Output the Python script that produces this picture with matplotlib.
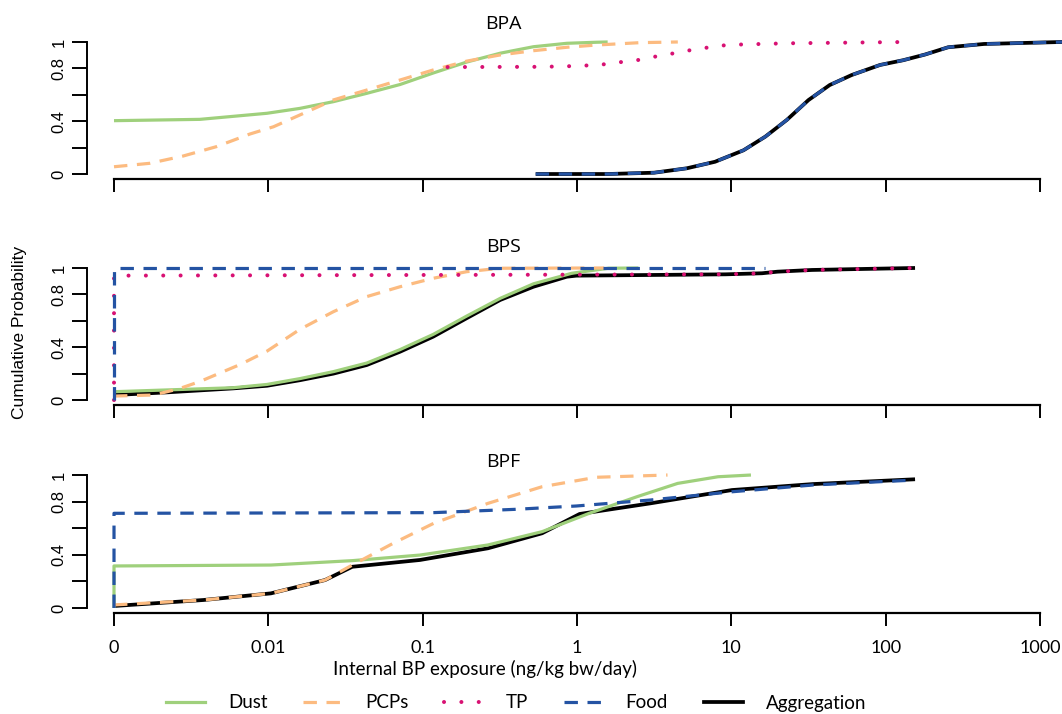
import matplotlib
matplotlib.use("Agg")
import matplotlib.pyplot as plt
from matplotlib.lines import Line2D

# "0" on the axis stands for 0.001 (log scale floor)
ZERO = 0.001

# ---- BPA ----
bpa_dust_x = [ZERO, 0.0036, 0.0098, 0.016, 0.0264, 0.0434, 0.0714, 0.117, 0.193, 0.318, 0.522, 0.859, 1.34, 1.58]
bpa_dust_p = [0.404, 0.414, 0.46, 0.497, 0.548, 0.611, 0.678, 0.765, 0.848, 0.915, 0.964, 0.99, 0.998, 1.0]
bpa_pcp_x = [ZERO, 0.0017, 0.0028, 0.0046, 0.0076, 0.0108, 0.016, 0.0264, 0.0434, 0.0714, 0.117, 0.193, 0.318, 0.522, 0.859, 1.34, 2.57, 4.5]
bpa_pcp_p = [0.055, 0.081, 0.136, 0.207, 0.303, 0.358, 0.447, 0.561, 0.636, 0.712, 0.788, 0.855, 0.902, 0.934, 0.96, 0.977, 0.995, 1.0]
bpa_tp_x = [0.145, 0.6, 1.0, 1.43, 1.86, 2.36, 3.03, 3.93, 5.05, 6.52, 8.39, 10.8, 22.9, 138]
bpa_tp_p = [0.81, 0.812, 0.818, 0.828, 0.846, 0.858, 0.884, 0.907, 0.932, 0.952, 0.972, 0.98, 0.99, 1.0]
bpa_agg_x = [0.54, 1.58, 3.16, 5.13, 7.85, 12.0, 16.6, 22.9, 31.6, 43.4, 60.3, 92, 130, 180, 254, 434, 1390]
bpa_agg_p = [0.0, 0.0, 0.01, 0.043, 0.093, 0.18, 0.283, 0.41, 0.56, 0.674, 0.75, 0.826, 0.862, 0.905, 0.96, 0.985, 1.0]
bpa_food_x = bpa_agg_x
bpa_food_p = bpa_agg_p

# ---- BPS ----
bps_dust_x = [ZERO, 0.0059, 0.0098, 0.016, 0.0264, 0.0434, 0.0714, 0.117, 0.193, 0.318, 0.522, 0.925, 1.6, 2.5]
bps_dust_p = [0.063, 0.093, 0.118, 0.162, 0.215, 0.28, 0.382, 0.497, 0.636, 0.77, 0.88, 0.96, 0.998, 1.0]
bps_pcp_x = [ZERO, 0.0018, 0.0026, 0.0036, 0.0066, 0.0098, 0.016, 0.0264, 0.0434, 0.0714, 0.117, 0.193, 0.318, 1.5]
bps_pcp_p = [0.03, 0.038, 0.083, 0.14, 0.27, 0.37, 0.535, 0.669, 0.783, 0.858, 0.922, 0.972, 0.998, 1.0]
bps_tp_x = [ZERO, ZERO, 9.2, 15.8, 19.9, 33.3, 66.9, 155]
bps_tp_p = [0.0, 0.942, 0.952, 0.96, 0.972, 0.985, 0.992, 1.0]
bps_food_x = [ZERO, ZERO, 16.6]
bps_food_p = [0.0, 1.0, 1.0]
bps_agg_x = [ZERO, 0.0022, 0.0059, 0.0098, 0.016, 0.0264, 0.0434, 0.0714, 0.117, 0.193, 0.318, 0.522, 0.859, 0.99, 9.2, 15.8, 19.9, 33.3, 66.9, 155]
bps_agg_p = [0.038, 0.058, 0.088, 0.108, 0.15, 0.2, 0.265, 0.366, 0.48, 0.62, 0.758, 0.858, 0.934, 0.942, 0.952, 0.96, 0.972, 0.985, 0.992, 1.0]

# ---- BPF ----
bpf_dust_x = [ZERO, ZERO, 0.0104, 0.035, 0.096, 0.265, 0.594, 1.2, 2.45, 4.49, 8.2, 13.4]
bpf_dust_p = [0.0, 0.316, 0.323, 0.356, 0.398, 0.474, 0.574, 0.712, 0.837, 0.937, 0.987, 1.0]
bpf_pcp_x = [ZERO, 0.0038, 0.0104, 0.0233, 0.035, 0.0643, 0.118, 0.265, 0.594, 1.33, 3.86]
bpf_pcp_p = [0.023, 0.06, 0.11, 0.21, 0.323, 0.486, 0.637, 0.787, 0.912, 0.983, 1.0]
bpf_food_x = [ZERO, ZERO, 0.117, 0.4, 0.99, 2.99, 10.1, 33.9, 93, 155]
bpf_food_p = [0.0, 0.712, 0.717, 0.742, 0.767, 0.812, 0.874, 0.925, 0.95, 0.962]
bpf_agg_x = [ZERO, 0.0038, 0.0104, 0.0233, 0.035, 0.096, 0.265, 0.594, 1.04, 2.99, 10.1, 33.9, 155]
bpf_agg_p = [0.015, 0.06, 0.11, 0.21, 0.31, 0.361, 0.449, 0.562, 0.707, 0.787, 0.887, 0.932, 0.968]

panels = ["BPA", "BPS", "BPF"]
x_ticks = [0.001, 0.01, 0.1, 1, 10, 100, 1000]
x_ticklabels = ["0", "0.01", "0.1", "1", "10", "100", "1000"]
y_ticks = [0, 0.2, 0.4, 0.6, 0.8, 1]
y_ticklabels = ["0", "", "0.4", "", "0.8", "1"]
legend_labels = ["Dust", "PCPs", "TP", "Food", "Aggregation"]

c_dust = "#9fd07c"
c_pcp = "#fcbb80"
c_tp = "#d81173"
c_food = "#2453a3"
c_agg = "#000000"
lw = 2.3

sty = {
    "Dust": dict(color=c_dust, lw=lw, ls="-"),
    "PCPs": dict(color=c_pcp, lw=lw, ls=(0, (4.2, 3.0))),
    "TP": dict(color=c_tp, lw=lw + 0.6, ls=(0, (0.01, 4.3)), dash_capstyle="round"),
    "Food": dict(color=c_food, lw=lw, ls=(0, (4.2, 3.0))),
    "Aggregation": dict(color=c_agg, lw=lw + 0.4, ls="-"),
}

series = {
    "BPA": [("Aggregation", bpa_agg_x, bpa_agg_p), ("Dust", bpa_dust_x, bpa_dust_p),
            ("PCPs", bpa_pcp_x, bpa_pcp_p), ("TP", bpa_tp_x, bpa_tp_p),
            ("Food", bpa_food_x, bpa_food_p)],
    "BPS": [("Aggregation", bps_agg_x, bps_agg_p), ("Dust", bps_dust_x, bps_dust_p),
            ("PCPs", bps_pcp_x, bps_pcp_p), ("TP", bps_tp_x, bps_tp_p),
            ("Food", bps_food_x, bps_food_p)],
    "BPF": [("Aggregation", bpf_agg_x, bpf_agg_p), ("Dust", bpf_dust_x, bpf_dust_p),
            ("PCPs", bpf_pcp_x, bpf_pcp_p), ("Food", bpf_food_x, bpf_food_p)],
}

W, H = 1062, 714
fig = plt.figure(figsize=(W / 100, H / 100), dpi=100)

# pixel geometry (top, bottom of each plot region)
boxes = {"BPA": (36.7, 179.3), "BPS": (262.7, 405.3), "BPF": (469.7, 613.3)}
title_y = {"BPA": 24, "BPS": 247, "BPF": 462}
left_px = 87

for name in panels:
    top, bot = boxes[name]
    ax = fig.add_axes([left_px / W, 1 - bot / H, 1 - left_px / W, (bot - top) / H])
    for lab, xs, ps in series[name]:
        ax.plot(xs, ps, solid_capstyle="butt", **sty[lab])
    ax.set_xscale("log")
    ax.set_xlim(10 ** -3.175, 10 ** 3.1426)
    ax.set_ylim(-0.04, 1.04)
    for s in ["top", "right"]:
        ax.spines[s].set_visible(False)
    ax.spines["left"].set_bounds(0, 1)
    ax.spines["bottom"].set_bounds(0.001, 1000)
    ax.spines["left"].set_linewidth(1.4)
    ax.spines["bottom"].set_linewidth(1.6)
    ax.set_xticks(x_ticks)
    ax.xaxis.set_minor_locator(matplotlib.ticker.NullLocator())
    if name == "BPF":
        ax.set_xticklabels(x_ticklabels, fontsize=13, family="Lato")
    else:
        ax.set_xticklabels([])
    ax.tick_params(axis="x", length=9.5, width=1.4, pad=10)
    ax.set_yticks(y_ticks)
    ax.set_yticklabels(y_ticklabels, rotation=90, va="center", fontsize=12,
                       family="Liberation Sans")
    ax.tick_params(axis="y", length=10.5, width=1.4, pad=4)
    fig.text(503 / W, 1 - title_y[name] / H, name, ha="center", va="center",
             fontsize=14, family="Open Sans")

fig.text(20 / W, 1 - 332 / H, "Cumulative Probability", rotation=90,
         ha="center", va="center", fontsize=12.5, family="Liberation Sans")
fig.text(485 / W, 1 - 669 / H, "Internal BP exposure (ng/kg bw/day)",
         ha="center", va="center", fontsize=13.5, family="Lato")

handles = [Line2D([], [], **sty[k]) for k in legend_labels]
fig.legend(handles, legend_labels, ncol=5,
           loc="center", bbox_to_anchor=(516 / W, 1 - 703 / H), frameon=False,
           handlelength=2.1, handletextpad=1.2, columnspacing=1.9,
           prop={"family": "Lato", "size": 13.5})

fig.savefig("out.png", dpi=100)
